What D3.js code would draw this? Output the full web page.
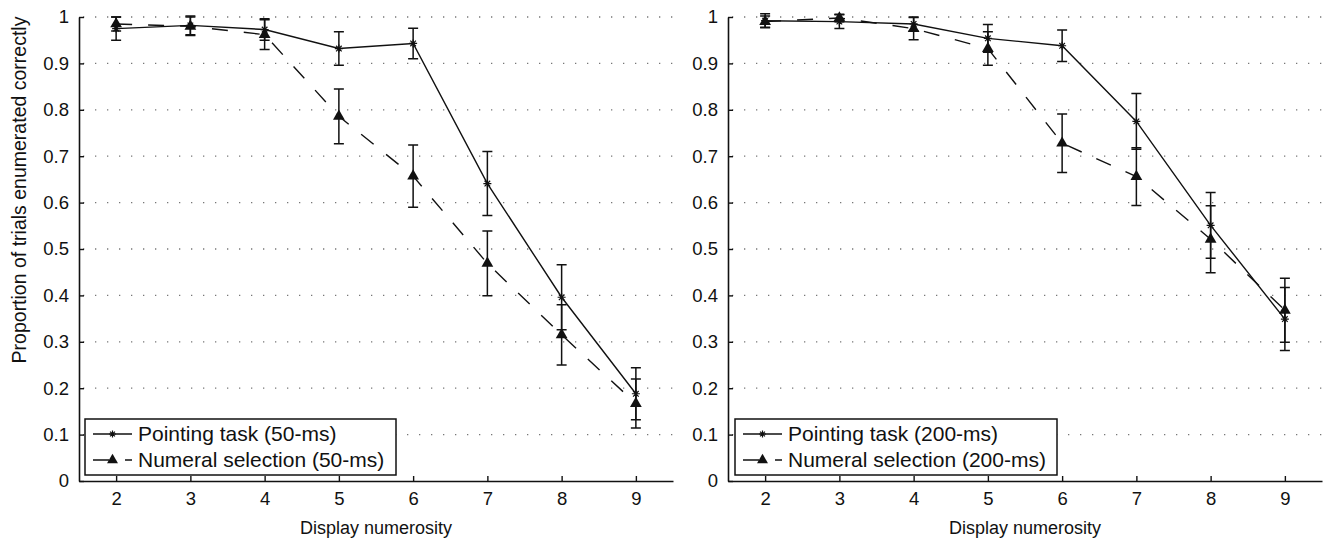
<!DOCTYPE html>
<html>
<head>
<meta charset="utf-8">
<script src="https://cdn.jsdelivr.net/npm/d3@7"></script>
<style>
    body { margin: 0; background: #fff; }
    text { font-family: "Liberation Sans", Arial, sans-serif; fill: #111; }
</style>
</head>
<body>
<div class="chart"></div>
<script>
var width = 1326;
var height = 541;

// data
var numerosity = [2, 3, 4, 5, 6, 7, 8, 9];
var xTicks = [2, 3, 4, 5, 6, 7, 8, 9];
var yTicks = [0, 0.1, 0.2, 0.3, 0.4, 0.5, 0.6, 0.7, 0.8, 0.9, 1];

var pointing50 = [0.975, 0.982, 0.973, 0.932, 0.943, 0.641, 0.396, 0.188];
var pointing50Err = [0.025, 0.02, 0.023, 0.036, 0.033, 0.069, 0.07, 0.056];
var numeral50 = [0.985, 0.98, 0.962, 0.786, 0.657, 0.469, 0.315, 0.167];
var numeral50Err = [0.015, 0.02, 0.032, 0.059, 0.067, 0.07, 0.065, 0.053];

var pointing200 = [0.992, 0.99, 0.985, 0.954, 0.938, 0.775, 0.551, 0.349];
var pointing200Err = [0.015, 0.015, 0.015, 0.03, 0.034, 0.06, 0.071, 0.068];
var numeral200 = [0.99, 0.998, 0.975, 0.932, 0.728, 0.656, 0.521, 0.368];
var numeral200Err = [0.012, 0.008, 0.024, 0.036, 0.063, 0.062, 0.072, 0.069];

var xLabel = 'Display numerosity';
var yLabel = 'Proportion of trials enumerated correctly';

var svg = d3.select('.chart').append('svg')
    .attr('width', width)
    .attr('height', height);

var plotTop = 17, plotBottom = 481;

drawPanel({
    left: 79, right: 673,
    pointing: pointing50, pointingErr: pointing50Err,
    numeral: numeral50, numeralErr: numeral50Err,
    legend: ['Pointing task (50-ms)', 'Numeral selection (50-ms)'],
    legendBox: [85, 396]
});
drawPanel({
    left: 728, right: 1322,
    pointing: pointing200, pointingErr: pointing200Err,
    numeral: numeral200, numeralErr: numeral200Err,
    legend: ['Pointing task (200-ms)', 'Numeral selection (200-ms)'],
    legendBox: [735, 1057]
});

// y label only once, on the left
svg.append('text')
    .attr('transform', 'translate(26,190) rotate(-90)')
    .attr('text-anchor', 'middle')
    .attr('font-size', 19.5)
    .text(yLabel);


function starPath(r) {
    var d = 0.7 * r;
    return 'M' + (-r) + ',0L' + r + ',0' +
        'M0,' + (-r) + 'L0,' + r +
        'M' + (-d) + ',' + (-d) + 'L' + d + ',' + d +
        'M' + (-d) + ',' + d + 'L' + d + ',' + (-d);
}

function drawPanel(p) {
    var g = svg.append('g');

    var x = d3.scaleLinear().domain([1.5, 9.5]).range([p.left, p.right]);
    var y = d3.scaleLinear().domain([0, 1]).range([plotBottom, plotTop]);

    // dotted horizontal grid
    g.selectAll('.grid')
        .data(yTicks.slice(1))
        .enter()
        .append('line')
            .attr('x1', p.left + 4)
            .attr('x2', p.right)
            .attr('y1', function (d) { return y(d); })
            .attr('y2', function (d) { return y(d); })
            .attr('stroke', '#777')
            .attr('stroke-width', 1.3)
            .attr('stroke-dasharray', '1.3,10.7');

    // axes, ticks point inward
    var yAxis = d3.axisLeft(y).tickValues(yTicks).tickSizeInner(-5).tickSizeOuter(0).tickPadding(10)
        .tickFormat(function (d) { return d === 0 || d === 1 ? d3.format('d')(d) : d3.format('.1f')(d); });
    var xAxis = d3.axisBottom(x).tickValues(xTicks).tickSizeInner(-5).tickSizeOuter(0).tickPadding(7);

    var ya = g.append('g')
        .attr('transform', 'translate(' + p.left + ',0)')
        .call(yAxis);
    var xa = g.append('g')
        .attr('transform', 'translate(0,' + plotBottom + ')')
        .call(xAxis);

    [ya, xa].forEach(function (a) {
        a.select('.domain').attr('stroke', '#111').attr('stroke-width', 1.6);
        a.selectAll('.tick line').attr('stroke', '#111').attr('stroke-width', 1.4);
        a.selectAll('.tick text')
            .attr('font-size', 18.5)
            .attr('font-family', '"Liberation Sans", Arial, sans-serif')
            .attr('fill', '#111');
    });
    xa.selectAll('.tick text').attr('dy', '0.9em');

    g.append('text')
        .attr('x', (p.left + p.right) / 2)
        .attr('y', 534)
        .attr('text-anchor', 'middle')
        .attr('font-size', 18)
        .text(xLabel);

    var rows = numerosity.map(function (n, i) {
        return {
            n: n,
            pv: p.pointing[i], pe: p.pointingErr[i],
            nv: p.numeral[i], ne: p.numeralErr[i]
        };
    });

    var line = d3.line()
        .x(function (d) { return x(d[0]); })
        .y(function (d) { return y(d[1]); });

    // error bars
    var bars = [];
    rows.forEach(function (r) {
        bars.push({ n: r.n, v: r.pv, e: r.pe });
        bars.push({ n: r.n, v: r.nv, e: r.ne });
    });
    g.selectAll('.err')
        .data(bars)
        .enter()
        .append('path')
            .attr('fill', 'none')
            .attr('stroke', '#111')
            .attr('stroke-width', 1.5)
            .attr('d', function (d) {
                var cx = x(d.n), y1 = y(d.v + d.e), y2 = y(d.v - d.e);
                return 'M' + cx + ',' + y1 + 'L' + cx + ',' + y2 +
                    'M' + (cx - 5) + ',' + y1 + 'L' + (cx + 5) + ',' + y1 +
                    'M' + (cx - 5) + ',' + y2 + 'L' + (cx + 5) + ',' + y2;
            });

    // numeral selection, dashed with triangles
    g.append('path')
        .datum(rows.map(function (r) { return [r.n, r.nv]; }))
        .attr('fill', 'none')
        .attr('stroke', '#111')
        .attr('stroke-width', 1.4)
        .attr('stroke-dasharray', '16,16')
        .attr('d', line);

    // pointing task, solid with stars
    g.append('path')
        .datum(rows.map(function (r) { return [r.n, r.pv]; }))
        .attr('fill', 'none')
        .attr('stroke', '#111')
        .attr('stroke-width', 1.4)
        .attr('d', line);

    g.selectAll('.tri')
        .data(rows)
        .enter()
        .append('path')
            .attr('transform', function (d) { return 'translate(' + x(d.n) + ',' + y(d.nv) + ')'; })
            .attr('d', d3.symbol().type(d3.symbolTriangle).size(60))
            .attr('fill', '#111');

    g.selectAll('.star')
        .data(rows)
        .enter()
        .append('path')
            .attr('transform', function (d) { return 'translate(' + x(d.n) + ',' + y(d.pv) + ')'; })
            .attr('d', starPath(4))
            .attr('fill', 'none')
            .attr('stroke', '#111')
            .attr('stroke-width', 1.2);

    // legend
    var lx0 = p.legendBox[0], lx1 = p.legendBox[1];
    var leg = g.append('g');
    leg.append('rect')
        .attr('x', lx0)
        .attr('y', 419)
        .attr('width', lx1 - lx0)
        .attr('height', 56)
        .attr('fill', '#fff')
        .attr('stroke', '#111')
        .attr('stroke-width', 1.5);

    var sx0 = lx0 + 8, sx1 = lx0 + 47, sxm = (sx0 + sx1) / 2;
    leg.append('line')
        .attr('x1', sx0).attr('x2', sx1)
        .attr('y1', 434).attr('y2', 434)
        .attr('stroke', '#111').attr('stroke-width', 1.3);
    leg.append('path')
        .attr('transform', 'translate(' + sxm + ',434)')
        .attr('d', starPath(3.5))
        .attr('fill', 'none')
        .attr('stroke', '#111')
        .attr('stroke-width', 1.2);
    leg.append('line')
        .attr('x1', sx0).attr('x2', sx1)
        .attr('y1', 460).attr('y2', 460)
        .attr('stroke', '#111').attr('stroke-width', 1.3)
        .attr('stroke-dasharray', '16,16');
    leg.append('path')
        .attr('transform', 'translate(' + sxm + ',460)')
        .attr('d', d3.symbol().type(d3.symbolTriangle).size(52))
        .attr('fill', '#111');

    leg.selectAll('.lt')
        .data(p.legend)
        .enter()
        .append('text')
            .attr('x', lx0 + 53)
            .attr('y', function (d, i) { return 441 + i * 26; })
            .attr('font-size', 21)
            .text(function (d) { return d; });
}
</script>
</body>
</html>
